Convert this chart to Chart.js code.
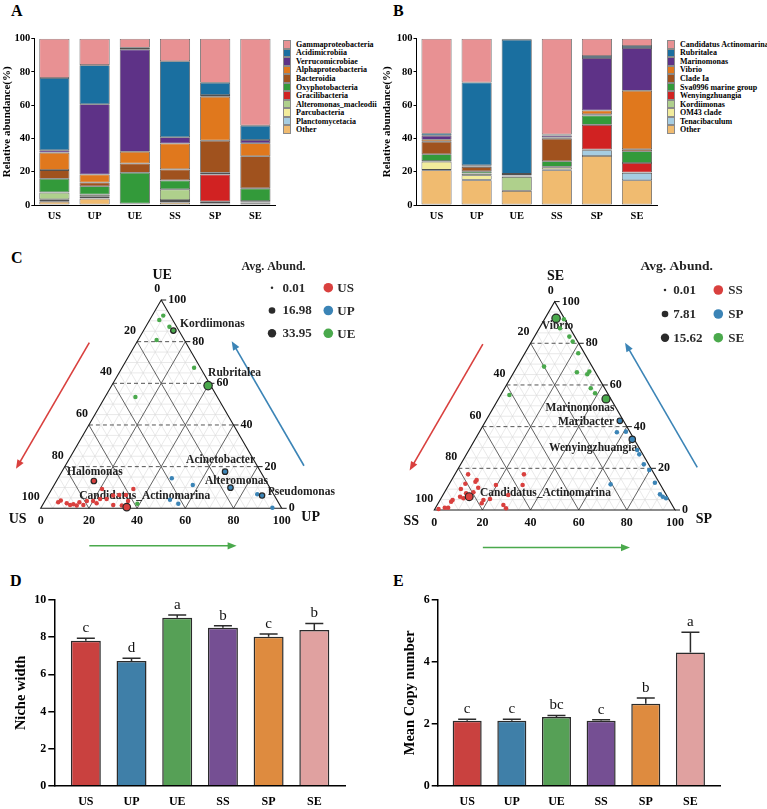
<!DOCTYPE html>
<html>
<head>
<meta charset="utf-8">
<script src="https://cdn.jsdelivr.net/npm/chart.js@4.4.1/dist/chart.umd.min.js"></script>
<style>
  body { margin: 0; background: #fff; }
  #page { position: relative; width: 767px; height: 809px; overflow: hidden; font-family: "Liberation Serif", "Times New Roman", serif; }
  canvas { position: absolute; }
  .tag { position: absolute; font-weight: bold; font-size: 16px; line-height: 16px; }
  .leg { position: absolute; font-weight: bold; font-size: 8px; }
  .leg .row { height: 8.55px; white-space: nowrap; display: flex; align-items: center; }
  .leg .box { width: 8px; height: 8.55px; box-sizing: border-box; border: 1px solid #8a8a8a; margin-right: 5px; }
</style>
</head>
<body>
<div id="page">
  <div class="tag" style="left:11px;top:3px">A</div>
  <div class="tag" style="left:393px;top:3px">B</div>
  <div class="tag" style="left:11px;top:250px">C</div>
  <div class="tag" style="left:10px;top:573px">D</div>
  <div class="tag" style="left:393px;top:573px">E</div>

  <canvas id="barA" width="280" height="225" style="left:0;top:0"></canvas>
  <canvas id="barB" width="285" height="225" style="left:380px;top:0"></canvas>
  <div id="legA" class="leg" style="left:283px;top:40px"></div>
  <div id="legB" class="leg" style="left:667px;top:40px"></div>

  <canvas id="terU" width="380" height="345" style="left:0;top:215px"></canvas>
  <canvas id="terS" width="387" height="345" style="left:380px;top:215px"></canvas>

  <canvas id="niche" width="383" height="239" style="left:0;top:570px"></canvas>
  <canvas id="copy" width="384" height="239" style="left:383px;top:570px"></canvas>
</div>

<script>
Chart.defaults.font.family = '"Liberation Serif", "Times New Roman", serif';
Chart.defaults.color = '#000';

const sites = ['US', 'UP', 'UE', 'SS', 'SP', 'SE'];

// panel A, class level, listed from the bottom of the stack to the top
const classNames = ['Other', 'Planctomycetacia', 'Parcubacteria', 'Alteromonas_macleodii', 'Gracilibacteria',
  'Oxyphotobacteria', 'Bacteroidia', 'Alphaproteobacteria', 'Verrucomicrobiae', 'Acidimicrobiia', 'Gammaproteobacteria'];
const clOther   = [2.0, 3.8, 0.3, 1.5, 0.6, 1.0];
const clPlancto = [0.4, 0.3, 0.1, 0.9, 0.3, 0.3];
const clParcu   = [1.0, 0.9, 0.1, 0.6, 0.3, 0.3];
const clAltero  = [4.0, 1.0, 0.1, 6.4, 0.8, 0.3];
const clGracil  = [0.2, 0.3, 0.3, 0.1, 16.4, 0.5];
const clOxy     = [8.2, 5.0, 18.5, 5.3, 1.0, 7.6];
const clBact    = [5.2, 2.2, 5.6, 6.6, 19.3, 19.3];
const clAlpha   = [10.5, 4.8, 7.0, 15.6, 26.4, 7.8];
const clVerru   = [1.4, 42.3, 61.6, 3.7, 1.0, 2.0];
const clAcidi   = [43.5, 23.5, 1.0, 45.7, 7.4, 8.6];
const clGamma   = [23.6, 15.9, 5.4, 13.6, 26.5, 52.3];

// panel B, genus level, same stacking order
const genusNames = ['Other', 'Tenacibaculum', 'OM43 clade', 'Kordiimonas', 'Wenyingzhuangia',
  'Sva0996 marine group', 'Clade Ia', 'Vibrio', 'Marinomonas', 'Rubritalea', 'Candidatus Actinomarina'];
const gnOther  = [20.9, 14.9, 8.4, 20.9, 29.5, 14.9];
const gnTena   = [0.2, 0.3, 0.1, 0.5, 3.4, 4.4];
const gnOM43   = [5.0, 2.7, 0.1, 1.3, 0.2, 0.1];
const gnKord   = [0.3, 1.0, 8.3, 0.2, 0.2, 0.1];
const gnWeny   = [0.1, 0.2, 0.2, 0.1, 14.9, 5.8];
const gnSva    = [4.0, 1.2, 0.2, 3.3, 5.6, 7.0];
const gnClade  = [7.5, 2.6, 0.3, 13.5, 0.8, 1.2];
const gnVibrio = [1.2, 0.3, 0.1, 0.8, 2.2, 35.2];
const gnMarino = [2.4, 0.7, 1.0, 1.2, 31.6, 25.7];
const gnRubri  = [1.2, 49.8, 80.7, 0.6, 1.2, 1.2];
const gnCand   = [57.2, 26.3, 0.6, 57.6, 10.4, 4.4];

const stackColors = ['#f0bb70', '#a6cde2', '#f2ec9c', '#afd08c', '#d12222', '#339a3a',
  '#a0521e', '#e0781d', '#5e3287', '#1a6fa0', '#e89193'];

// panel C, ternary points: [US/SS %, UP/SP %, UE/SE %, avg. abundance, name]
const usPts = [
  [71.4, 15.5, 13.1, 9, 'Halomonas'], [56.9, 33.8, 9.3, 4], [69.9, 20.8, 9.3, 4], [91.3, 5.8, 2.9, 4],
  [89.8, 6.5, 3.7, 4], [87.0, 11.4, 1.6, 4], [85.5, 12.6, 1.9, 4], [82.5, 14.6, 2.9, 4],
  [79.1, 17.4, 3.5, 4], [76.5, 20.0, 3.5, 4], [73.1, 22.4, 4.5, 4], [70.4, 25.1, 4.5, 4],
  [66.9, 27.0, 6.1, 4], [64.2, 29.4, 6.4, 4], [61.4, 32.2, 6.4, 4], [62.0, 34.5, 3.5, 4],
  [75.6, 22.0, 2.4, 4], [69.1, 29.3, 1.6, 4], [65.7, 33.0, 1.3, 4], [81.5, 16.9, 1.6, 4],
  [84.4, 14.3, 1.3, 4], [88.0, 9.6, 2.4, 4], [64.0, 35.4, 0.6, 25, 'Candidatus_Actinomarina']
];
const upPts = [
  [38.4, 47.2, 14.4, 4], [31.3, 57.5, 11.2, 4], [14.7, 67.7, 17.6, 9, 'Acinetobacter'],
  [16.3, 73.8, 9.9, 9, 'Alteromonas'], [44.3, 51.6, 4.1, 4], [41.8, 56.0, 2.2, 4],
  [6.8, 86.5, 6.7, 4], [5.1, 88.8, 6.1, 8, 'Pseudomonas'], [3.7, 96.0, 0.3, 4]
];
const uePts = [
  [2.9, 4.6, 92.5, 4], [5.6, 4.0, 90.4, 4], [3.0, 9.8, 87.2, 4], [2.3, 12.4, 85.3, 9, 'Kordiimonas'],
  [11.5, 7.7, 80.8, 4], [2.6, 29.9, 67.5, 4], [1.1, 40.0, 58.9, 33.95, 'Rubritalea'],
  [34.0, 12.6, 53.4, 4], [58.8, 39.0, 2.2, 4]
];
const ssPts = [
  [77.4, 5.5, 17.1, 2], [75.2, 10.4, 14.4, 2], [76.1, 10.3, 13.6, 2], [80.8, 6.6, 12.6, 2],
  [83.9, 6.0, 10.1, 2], [68.4, 19.6, 12.0, 2], [54.2, 28.7, 17.1, 2], [57.3, 30.7, 12.0, 2],
  [76.4, 12.9, 10.7, 2], [82.8, 9.2, 8.0, 2], [79.5, 12.0, 8.5, 2], [90.0, 5.2, 4.8, 2],
  [91.0, 5.0, 4.0, 2], [77.2, 18.0, 4.8, 2], [78.7, 18.1, 3.2, 2], [74.2, 20.5, 5.3, 2],
  [65.7, 27.1, 7.2, 2], [70.1, 27.5, 2.4, 2], [69.8, 29.4, 0.8, 2], [95.1, 3.8, 1.1, 2],
  [93.7, 5.2, 1.1, 2], [98.0, 1.5, 0.5, 2], [85.1, 9.3, 5.6, 2], [86.1, 7.5, 6.4, 2],
  [82.3, 11.3, 6.4, 13, 'Candidatus_Actinomarina']
];
const spPts = [
  [1.5, 55.7, 42.8, 4.4, 'Maribacter'], [5.5, 57.2, 37.3, 2], [1.6, 60.8, 37.6, 2],
  [0.8, 65.3, 33.9, 7, 'Wenyingzhuangia'], [1.3, 69.9, 28.8, 2], [1.5, 71.8, 26.7, 2],
  [2.0, 76.1, 21.9, 2], [1.1, 79.7, 19.2, 2], [1.8, 85.1, 13.1, 2], [20.6, 67.1, 12.3, 2],
  [2.5, 90.0, 7.5, 2], [1.9, 91.7, 6.4, 2], [0.9, 93.5, 5.6, 2]
];
const sePts = [
  [3.4, 4.6, 92.0, 15.62, 'Vibrio'], [0.4, 8.1, 91.5, 2], [4.2, 8.6, 87.2, 2], [2.3, 14.5, 83.2, 2],
  [2.1, 17.1, 80.8, 2], [2.6, 22.2, 75.2, 2], [20.0, 11.2, 68.8, 2], [7.7, 26.2, 66.1, 2],
  [3.9, 31.0, 65.1, 2], [2.4, 31.2, 66.4, 2], [5.8, 35.8, 58.4, 2], [5.2, 38.8, 56.0, 2],
  [2.0, 44.7, 53.3, 14, 'Marinomonas'], [41.2, 3.6, 55.2, 2]
];
const abundKeysU = [0.01, 16.98, 33.95];
const abundKeysS = [0.01, 7.81, 15.62];

// panels D and E
const nicheMean = [7.81, 6.71, 9.05, 8.51, 8.02, 8.38];
const nicheErr = [0.13, 0.15, 0.14, 0.11, 0.15, 0.36];
const nicheLetters = ['c', 'd', 'a', 'b', 'c', 'b'];
const copyMean = [2.10, 2.10, 2.22, 2.10, 2.65, 4.30];
const copyErr = [0.05, 0.05, 0.05, 0.03, 0.18, 0.66];
const copyLetters = ['c', 'c', 'bc', 'c', 'b', 'a'];
const siteColors = ['#c9413f', '#3f7fa8', '#56a056', '#754f93', '#de8b3f', '#e0a1a0'];

const bold = (size) => ({ size: size, weight: 'bold' });

// ---------- stacked bars (A, B) ----------
function stackChart(id, names, values, yWidth, padRight) {
  return new Chart(document.getElementById(id), {
    type: 'bar',
    data: {
      labels: sites,
      datasets: names.map((n, i) => ({
        label: n, data: values[i], backgroundColor: stackColors[i],
        borderColor: '#505050', borderWidth: 0.8, borderSkipped: false,
        categoryPercentage: 0.75, barPercentage: 1
      }))
    },
    options: {
      responsive: false, animation: false, events: [],
      layout: { padding: { top: 38.7, right: padRight, left: 0, bottom: 0 } },
      plugins: { legend: { display: false }, tooltip: { enabled: false } },
      scales: {
        x: {
          stacked: true, grid: { display: false, drawTicks: false }, border: { color: '#000', width: 1 },
          ticks: { font: bold(10.5), color: '#000', padding: 5 },
          afterFit: (s) => { s.height = 20; }
        },
        y: {
          stacked: true, min: 0, max: 100,
          ticks: { stepSize: 20, font: bold(10.5), color: '#000', padding: 1 },
          grid: { drawOnChartArea: false, tickLength: 3, color: '#000' },
          border: { color: '#000', width: 1 },
          title: { display: true, text: 'Relative abundance(%)', font: bold(11), padding: { top: 1, bottom: 0 } },
          afterFit: (s) => { s.width = yWidth; }
        }
      }
    }
  });
}

function htmlLegend(id, names) {
  const el = document.getElementById(id);
  for (let i = names.length - 1; i >= 0; i--) {
    const row = document.createElement('div');
    row.className = 'row';
    const box = document.createElement('div');
    box.className = 'box';
    box.style.background = stackColors[i];
    row.appendChild(box);
    row.appendChild(document.createTextNode(names[i]));
    el.appendChild(row);
  }
}

stackChart('barA', classNames,
  [clOther, clPlancto, clParcu, clAltero, clGracil, clOxy, clBact, clAlpha, clVerru, clAcidi, clGamma], 34.3, 4.5);
stackChart('barB', genusNames,
  [gnOther, gnTena, gnOM43, gnKord, gnWeny, gnSva, gnClade, gnVibrio, gnMarino, gnRubri, gnCand], 36.5, 8);
htmlLegend('legA', classNames);
htmlLegend('legB', genusNames);

// ---------- ternary plots (C) ----------
const SQ = Math.sqrt(3) / 2;
const ptRed = '#d9403e', ptBlue = '#3b84b6', ptGreen = '#4aa94c';

function arrow(ctx, x1, y1, x2, y2, color) {
  const ang = Math.atan2(y2 - y1, x2 - x1);
  ctx.strokeStyle = color; ctx.fillStyle = color; ctx.lineWidth = 1.6;
  ctx.beginPath(); ctx.moveTo(x1, y1);
  ctx.lineTo(x2 - 6 * Math.cos(ang), y2 - 6 * Math.sin(ang)); ctx.stroke();
  ctx.beginPath(); ctx.moveTo(x2, y2);
  ctx.lineTo(x2 - 9 * Math.cos(ang) + 3.6 * Math.sin(ang), y2 - 9 * Math.sin(ang) - 3.6 * Math.cos(ang));
  ctx.lineTo(x2 - 9 * Math.cos(ang) - 3.6 * Math.sin(ang), y2 - 9 * Math.sin(ang) + 3.6 * Math.cos(ang));
  ctx.closePath(); ctx.fill();
}

function ternaryChart(id, groups, cfg) {
  const amax = cfg.keys[2];
  const radius = (a) => 1.2 + 3 * Math.sqrt(a / amax);

  const decor = {
    id: 'ternaryDecor',
    beforeDatasetsDraw(chart) {
      const { ctx } = chart;
      const xs = chart.scales.x, ys = chart.scales.y;
      const P = (b, c) => [xs.getPixelForValue(b + c / 2), ys.getPixelForValue(c * SQ)];
      const seg = (p, q) => { ctx.beginPath(); ctx.moveTo(p[0], p[1]); ctx.lineTo(q[0], q[1]); ctx.stroke(); };
      ctx.save();
      // fine grid
      ctx.strokeStyle = '#dadada'; ctx.lineWidth = 0.6;
      for (let k = 1; k < 20; k++) {
        if (k % 4 === 0) continue;
        const t = k / 20;
        seg(P(0, t), P(1 - t, t));
        seg(P(t, 0), P(t, 1 - t));
        seg(P(1 - t, 0), P(0, 1 - t));
      }
      // major grid
      for (let k = 1; k < 5; k++) {
        const t = k / 5;
        ctx.strokeStyle = '#3a3a3a'; ctx.lineWidth = 0.8; ctx.setLineDash([]);
        seg(P(t, 0), P(t, 1 - t));
        seg(P(1 - t, 0), P(0, 1 - t));
        ctx.strokeStyle = '#555'; ctx.lineWidth = 1; ctx.setLineDash([4, 3]);
        seg(P(0, t), P(1 - t, t));
      }
      ctx.setLineDash([]);
      // triangle
      ctx.strokeStyle = '#1a1a1a'; ctx.lineWidth = 1.1;
      const A = P(0, 0), B = P(1, 0), C = P(0, 1);
      ctx.beginPath(); ctx.moveTo(A[0], A[1]); ctx.lineTo(B[0], B[1]); ctx.lineTo(C[0], C[1]); ctx.closePath(); ctx.stroke();
      // ticks and tick labels
      ctx.fillStyle = '#111'; ctx.font = 'bold 12px "Liberation Serif", serif';
      for (let k = 0; k <= 5; k++) {
        const t = k / 5, v = String(k * 20);
        const r = P(1 - t, t);
        ctx.lineWidth = 1; seg(r, [r[0] + 5, r[1]]);
        ctx.textAlign = 'left'; ctx.textBaseline = 'middle';
        ctx.fillText(v, r[0] + 7, r[1]);
        const l = P(0, 1 - t);
        ctx.textAlign = 'right';
        ctx.fillText(v, l[0] - 1, l[1] - 11);
        const b = P(t, 0);
        ctx.textAlign = 'center'; ctx.textBaseline = 'top';
        ctx.fillText(v, b[0], b[1] + 7);
      }
      // vertex names
      ctx.font = 'bold 14px "Liberation Serif", serif'; ctx.textBaseline = 'middle'; ctx.textAlign = 'center';
      ctx.fillText(cfg.vertex[2], C[0] + 1, C[1] - 25);
      ctx.fillText(cfg.vertex[0], A[0] - 23, A[1] + 11);
      ctx.fillText(cfg.vertex[1], B[0] + 29, B[1] + 9);
      // arrows
      const D = (x, y) => [xs.getPixelForValue(x), ys.getPixelForValue(y)];
      const arr = [[0.2017, 0.689, -0.1025, 0.164, ptRed], [1.0925, 0.177, 0.7925, 0.695, ptBlue],
        [0.2017, -0.156, 0.813, -0.156, ptGreen]];
      arr.forEach((a) => { const s = D(a[0], a[1]), e = D(a[2], a[3]); arrow(ctx, s[0], s[1], e[0], e[1], a[4]); });
      // names of highlighted taxa (drawn under the points)
      ctx.font = 'bold 11.5px "Liberation Serif", serif'; ctx.fillStyle = '#222'; ctx.textBaseline = 'middle';
      chart.data.datasets.forEach((ds, di) => {
        const meta = chart.getDatasetMeta(di);
        ds.data.forEach((d, i) => {
          const pos = cfg.labels[d.name];
          if (!pos) return;
          const el = meta.data[i];
          ctx.textAlign = pos[0];
          ctx.fillText(d.name, el.x + pos[1], el.y + pos[2]);
        });
      });
      ctx.restore();
    },
    afterDatasetsDraw(chart) {
      const { ctx } = chart;
      const L = cfg.legend;
      ctx.save();
      ctx.fillStyle = '#222';
      ctx.font = 'bold ' + L.titleSize + 'px "Liberation Serif", serif';
      ctx.textAlign = 'center'; ctx.textBaseline = 'middle';
      ctx.fillText('Avg. Abund.', L.titleX, L.titleY);
      ctx.font = 'bold 13px "Liberation Serif", serif'; ctx.textAlign = 'left';
      const cols = [ptRed, ptBlue, ptGreen];
      cfg.keys.forEach((k, i) => {
        const y = L.rows[i];
        ctx.fillStyle = '#2b2b2b';
        ctx.beginPath(); ctx.arc(L.dotX, y, radius(k), 0, Math.PI * 2); ctx.fill();
        ctx.fillText(k.toFixed(2), L.textX, y + 0.5);
        ctx.fillStyle = cols[i];
        ctx.beginPath(); ctx.arc(L.colX, y, 4.8, 0, Math.PI * 2); ctx.fill();
        ctx.fillStyle = '#2b2b2b';
        ctx.fillText(groups[i].label, L.col2X, y + 1);
      });
      ctx.restore();
    }
  };

  return new Chart(document.getElementById(id), {
    type: 'scatter',
    data: {
      datasets: groups.map((g) => ({
        label: g.label,
        data: g.pts.map((p) => ({ x: (p[1] + p[2] / 2) / 100, y: p[2] / 100 * SQ, a: p[3], name: p[4] || '' })),
        pointBackgroundColor: g.color,
        pointBorderColor: (c) => (c.raw && c.raw.name ? '#262626' : g.color),
        pointBorderWidth: (c) => (c.raw && c.raw.name ? 1.2 : 0),
        pointRadius: (c) => (c.raw ? radius(c.raw.a) : 2),
        clip: false
      }))
    },
    options: {
      responsive: false, animation: false, events: [],
      layout: { padding: cfg.pad },
      plugins: { legend: { display: false }, tooltip: { enabled: false } },
      scales: {
        x: { type: 'linear', min: 0, max: 1, display: false },
        y: { type: 'linear', min: 0, max: SQ, display: false }
      }
    },
    plugins: [decor]
  });
}

ternaryChart('terU', [
  { label: 'US', color: ptRed, pts: usPts },
  { label: 'UP', color: ptBlue, pts: upPts },
  { label: 'UE', color: ptGreen, pts: uePts }
], {
  keys: abundKeysU, vertex: ['US', 'UP', 'UE'],
  pad: { left: 40.7, right: 98.3, top: 85, bottom: 51.7 },
  labels: {
    Kordiimonas: ['left', 6.7, -7], Rubritalea: ['left', 0, -13], Halomonas: ['center', 1, -9],
    Candidatus_Actinomarina: ['center', 18, -11], Acinetobacter: ['center', -4.5, -12],
    Alteromonas: ['center', 6, -7], Pseudomonas: ['left', 5.7, -4]
  },
  legend: { titleX: 273.5, titleY: 51.7, titleSize: 12, rows: [72.7, 95.5, 118.3], dotX: 272, textX: 282.5, colX: 328.3, col2X: 337.3 }
});

ternaryChart('terS', [
  { label: 'SS', color: ptRed, pts: ssPts },
  { label: 'SP', color: ptBlue, pts: spPts },
  { label: 'SE', color: ptGreen, pts: sePts }
], {
  keys: abundKeysS, vertex: ['SS', 'SP', 'SE'],
  pad: { left: 54.3, right: 92, top: 86.6, bottom: 50 },
  labels: {
    Vibrio: ['center', 1.5, 8], Marinomonas: ['center', -26, 9], Maribacter: ['right', -5.7, 1],
    Wenyingzhuangia: ['right', 5, 9], Candidatus_Actinomarina: ['left', 10.7, -4]
  },
  legend: { titleX: 296.7, titleY: 51.7, titleSize: 13.5, rows: [75, 99, 122.7], dotX: 285, textX: 293.3, colX: 338.3, col2X: 348.3 }
});

// ---------- mean bars with error bars (D, E) ----------
function meanChart(id, means, errs, letters, o) {
  const errPlugin = {
    id: 'errBars',
    afterDatasetsDraw(chart) {
      const { ctx } = chart;
      const ys = chart.scales.y;
      const meta = chart.getDatasetMeta(0);
      ctx.save();
      ctx.strokeStyle = '#2b2b2b'; ctx.lineWidth = 1.5;
      ctx.fillStyle = '#111'; ctx.font = '15px "Liberation Serif", serif';
      ctx.textAlign = 'center'; ctx.textBaseline = 'alphabetic';
      meta.data.forEach((bar, i) => {
        const top = ys.getPixelForValue(means[i] + errs[i]);
        ctx.beginPath();
        ctx.moveTo(bar.x, bar.y); ctx.lineTo(bar.x, top);
        ctx.moveTo(bar.x - 9, top); ctx.lineTo(bar.x + 9, top);
        ctx.stroke();
        ctx.fillText(letters[i], bar.x, top - 6);
      });
      ctx.restore();
    }
  };
  return new Chart(document.getElementById(id), {
    type: 'bar',
    data: {
      datasets: [{
        data: means.map((v, i) => ({ x: i, y: v })),
        backgroundColor: siteColors, borderColor: '#2b2b2b', borderWidth: 1.5,
        barPercentage: o.barPct, categoryPercentage: 1
      }]
    },
    options: {
      responsive: false, animation: false, events: [],
      layout: { padding: { top: 30, right: o.padRight, left: 0, bottom: 0 } },
      plugins: { legend: { display: false }, tooltip: { enabled: false } },
      scales: {
        x: {
          type: 'linear', min: o.xmin, max: o.xmax, offset: false,
          grid: { display: false, drawTicks: false }, border: { color: '#000', width: 1.5 },
          ticks: { stepSize: 1, includeBounds: false, autoSkip: false, maxRotation: 0,
            callback: (v) => (sites[v] !== undefined ? sites[v] : ''), font: bold(12), color: '#000', padding: 9 },
          afterFit: (s) => { s.height = 23.3; }
        },
        y: {
          min: 0, max: o.ymax,
          ticks: { stepSize: 2, font: bold(12), color: '#000', padding: 2 },
          grid: { drawOnChartArea: false, tickLength: 6, color: '#000', lineWidth: 1.5 },
          border: { color: '#000', width: 1.5 },
          title: { display: true, text: o.title, font: bold(14.5), padding: { top: o.titlePad, bottom: 0 } },
          afterFit: (s) => { s.width = o.yWidth; }
        }
      }
    },
    plugins: [errPlugin]
  });
}

meanChart('niche', nicheMean, nicheErr, nicheLetters,
  { title: 'Niche width', ymax: 10, xmin: -0.69, xmax: 5.687, barPct: 0.656, yWidth: 54.3, padRight: 37.3, titlePad: 13 });
meanChart('copy', copyMean, copyErr, copyLetters,
  { title: 'Mean Copy number', ymax: 6, xmin: -0.66, xmax: 5.678, barPct: 0.65, yWidth: 54.7, padRight: 46.3, titlePad: 19 });
</script>
</body>
</html>
